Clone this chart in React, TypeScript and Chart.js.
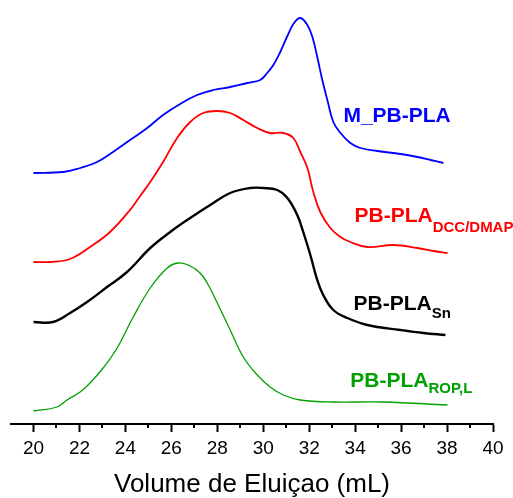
import React, { useEffect, useRef } from "react";
import { Chart, registerables } from "chart.js";

Chart.register(...registerables);

// Elution volume (mL) and stacked detector signal (a.u., offset per trace)
const mPbPlaVol = [20.0, 21.29, 22.03, 22.77, 23.46, 24.2, 24.95, 25.64, 26.38, 27.12, 27.82, 28.56, 29.3, 29.87, 30.17, 30.44, 30.74, 31.05, 31.31, 31.61, 31.92, 32.14, 32.35, 32.57, 32.79, 33.05, 33.36, 33.79, 34.23, 34.97, 35.97, 36.71, 37.28, 37.84];
const mPbPlaSig = [2.51, 2.52, 2.56, 2.62, 2.72, 2.84, 2.96, 3.09, 3.2, 3.29, 3.34, 3.37, 3.41, 3.44, 3.51, 3.59, 3.72, 3.88, 4.0, 4.06, 3.99, 3.87, 3.67, 3.44, 3.24, 3.02, 2.91, 2.81, 2.76, 2.73, 2.7, 2.67, 2.64, 2.61];

const dccVol = [20.0, 20.72, 21.59, 22.46, 23.33, 24.2, 24.64, 25.08, 25.64, 26.25, 26.82, 27.39, 28.0, 28.56, 29.13, 29.74, 30.3, 30.87, 31.31, 31.61, 31.92, 32.18, 32.48, 32.92, 33.36, 33.79, 34.53, 35.66, 36.71, 37.41, 38.02];
const dccSig = [1.62, 1.62, 1.65, 1.77, 1.92, 2.14, 2.28, 2.42, 2.62, 2.86, 3.02, 3.11, 3.13, 3.11, 3.04, 2.96, 2.91, 2.91, 2.86, 2.72, 2.56, 2.32, 2.12, 1.96, 1.87, 1.82, 1.77, 1.79, 1.76, 1.73, 1.71];

const snVol = [20.0, 20.85, 21.59, 22.33, 23.2, 24.07, 25.08, 25.95, 26.82, 27.69, 28.56, 29.43, 30.0, 30.61, 31.05, 31.48, 31.74, 32.05, 32.35, 32.61, 33.05, 33.66, 34.53, 35.97, 36.97, 37.93];
const snSig = [1.02, 1.02, 1.11, 1.22, 1.37, 1.52, 1.76, 1.92, 2.06, 2.19, 2.31, 2.36, 2.36, 2.34, 2.26, 2.09, 1.92, 1.69, 1.44, 1.29, 1.14, 1.06, 0.99, 0.94, 0.91, 0.89];

const ropVol = [20.0, 21.02, 21.46, 22.03, 22.46, 23.03, 23.64, 24.34, 25.08, 25.82, 26.3, 26.82, 27.25, 27.56, 28.0, 28.56, 29.13, 29.74, 30.3, 30.87, 31.61, 33.05, 35.23, 38.02];
const ropSig = [0.13, 0.17, 0.24, 0.32, 0.41, 0.56, 0.76, 1.07, 1.36, 1.56, 1.61, 1.58, 1.51, 1.41, 1.21, 0.94, 0.67, 0.49, 0.37, 0.29, 0.24, 0.22, 0.22, 0.19];

const xTicks = [20, 22, 24, 26, 28, 30, 32, 34, 36, 38, 40];
const xMinorTicks = [21, 23, 25, 27, 29, 31, 33, 35, 37, 39];

// label: main text, subscript, anchor (mL, signal) at left / baseline
const labelMain = ["M_PB-PLA", "PB-PLA", "PB-PLA", "PB-PLA"];
const labelSub = ["", "DCC/DMAP", "Sn", "ROP,L"];
const labelX = [33.49, 33.97, 33.93, 33.79];
const labelY = [3.02, 2.02, 1.14, 0.37];
const labelSubDrop = [0, 10, 8, 6];

const colors = ["#0000FF", "#FF0000", "#000000", "#00A000"];
const FONT = "'Liberation Sans', Arial, sans-serif";

const pts = (xs: number[], ys: number[]) => xs.map((x, i) => ({ x, y: ys[i] }));

const labelPlugin = {
  id: "traceLabels",
  afterDatasetsDraw(chart: any) {
    const { ctx, scales } = chart;
    ctx.save();
    ctx.textBaseline = "alphabetic";
    ctx.textAlign = "left";
    labelMain.forEach((t, i) => {
      const px = scales.x.getPixelForValue(labelX[i]);
      const py = scales.y.getPixelForValue(labelY[i]);
      ctx.fillStyle = colors[i];
      ctx.font = `bold 21px ${FONT}`;
      ctx.fillText(t, px, py);
      if (labelSub[i]) {
        const w = ctx.measureText(t).width;
        ctx.font = `bold 15px ${FONT}`;
        ctx.fillText(labelSub[i], px + w, py + labelSubDrop[i]);
      }
    });
    ctx.restore();
  },
  afterDraw(chart: any) {
    const { ctx, scales } = chart;
    const sx = scales.x;
    ctx.save();
    ctx.strokeStyle = "#000";
    ctx.lineWidth = 2;
    xMinorTicks.forEach((v) => {
      const px = Math.round(sx.getPixelForValue(v));
      ctx.beginPath();
      ctx.moveTo(px, sx.top);
      ctx.lineTo(px, sx.top + 4);
      ctx.stroke();
    });
    ctx.restore();
  },
};

export default function App() {
  const ref = useRef<HTMLCanvasElement>(null);
  useEffect(() => {
    if (!ref.current) return;
    const series = [
      pts(mPbPlaVol, mPbPlaSig),
      pts(dccVol, dccSig),
      pts(snVol, snSig),
      pts(ropVol, ropSig),
    ];
    const widths = [1.8, 1.8, 2.4, 1.3];
    const chart = new Chart(ref.current, {
      type: "line",
      data: {
        datasets: series.map((d, i) => ({
          label: labelMain[i] + labelSub[i],
          data: d,
          borderColor: colors[i],
          borderWidth: widths[i],
          pointRadius: 0,
          fill: false,
          tension: 0.4,
        })),
      },
      options: {
        animation: false,
        responsive: false,
        layout: { padding: { left: 11, right: 20, top: 0, bottom: 0 } },
        plugins: { legend: { display: false }, tooltip: { enabled: false } },
        scales: {
          x: {
            type: "linear",
            min: 19.02,
            max: 40,
            afterBuildTicks: (scale: any) => {
              scale.ticks = xTicks.map((value) => ({ value }));
            },
            grid: {
              drawOnChartArea: false,
              tickLength: 8,
              tickWidth: 2,
              tickColor: "#000",
            },
            border: { display: true, color: "#000", width: 2 },
            ticks: {
              color: "#000",
              font: { family: FONT, size: 19 },
              padding: 5,
              maxRotation: 0,
              autoSkip: false,
            },
            title: {
              display: true,
              text: "Volume de Eluiçao (mL)",
              color: "#000",
              font: { family: FONT, size: 26 },
              padding: { top: 4, bottom: -2 },
            },
          },
          y: { display: false, min: 0, max: 4.24 },
        },
      },
      plugins: [labelPlugin],
    });
    return () => chart.destroy();
  }, []);
  return (
    <div style={{ position: "fixed", left: 0, top: 0, width: 513, height: 498, background: "#fff" }}>
      <canvas ref={ref} width={513} height={498} style={{ display: "block" }} />
    </div>
  );
}
